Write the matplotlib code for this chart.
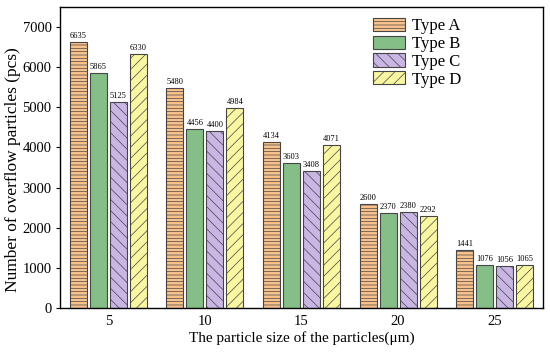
import matplotlib
matplotlib.use("Agg")
import matplotlib.pyplot as plt
import numpy as np

plt.rcParams['font.family'] = ['Liberation Serif', 'DejaVu Serif']
plt.rcParams['hatch.linewidth'] = 0.5

sizes = ['5', '10', '15', '20', '25']
series_names = ['Type A', 'Type B', 'Type C', 'Type D']
type_a = [6635, 5480, 4134, 2600, 1441]
type_b = [5865, 4456, 3603, 2370, 1076]
type_c = [5125, 4400, 3408, 2380, 1056]
type_d = [6330, 4984, 4071, 2292, 1065]
values = [type_a, type_b, type_c, type_d]

colors = ['#F9C28C', '#86BE88', '#C9B6E4', '#FAF7A2']
hatches = ['-----', None, '\\\\\\', '///']

fig = plt.figure(figsize=(5.5, 3.53), dpi=100)
ax = fig.add_axes([60/550, 1-308/353, 483/550, 301/353])

x = np.arange(len(sizes))
w = 0.175
step = 0.207
for i, (name, vals) in enumerate(zip(series_names, values)):
    off = (i - 1.5) * step
    bars = ax.bar(x + off, vals, width=w, color=colors[i], edgecolor='#454545',
                  linewidth=0.8, hatch=hatches[i], label=name)
    for b, v in zip(bars, vals):
        ax.text(b.get_x() + b.get_width()/2, v + 50, str(v), ha='center', va='bottom',
                fontsize=6)

ax.set_xlim(-0.5, 4.5)
ax.set_ylim(0, 7500)
ax.set_yticks(range(0, 7001, 1000))
ax.set_xticks(x)
ax.set_xticklabels(sizes)
ax.tick_params(axis='x', labelsize=10.5, length=0, pad=5)
ax.tick_params(axis='y', labelsize=10.5, length=3, direction='out', pad=3)
ax.set_xlabel('The particle size of the particles(μm)', fontsize=11, labelpad=2)
ax.set_ylabel('Number of overflow particles (pcs)', fontsize=12.5)
ax.yaxis.set_label_coords(-0.08, 0.46)
for s in ax.spines.values():
    s.set_linewidth(1.0)

ax.legend(loc='upper left', bbox_to_anchor=(0.625, 1.0), frameon=False, fontsize=12,
          handlelength=1.95, handleheight=0.85, labelspacing=0.08, handletextpad=0.4,
          borderaxespad=0.25)

fig.savefig('out.png', dpi=100)
